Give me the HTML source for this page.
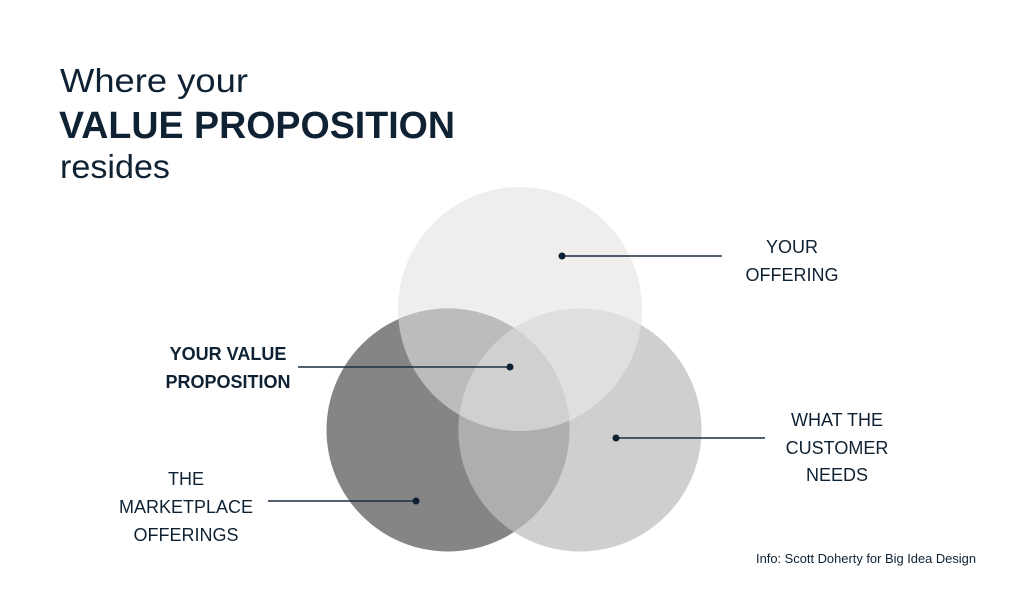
<!DOCTYPE html>
<html><head><meta charset="utf-8"><style>
body{margin:0;background:#fff;width:1024px;height:597px;overflow:hidden}
svg{display:block}
text{font-family:"Liberation Sans",sans-serif;fill:#0f2233}
</style></head><body>
<svg width="1024" height="597" viewBox="0 0 1024 597" xmlns="http://www.w3.org/2000/svg">
<defs>
<clipPath id="cT"><circle cx="520" cy="309" r="122"/></clipPath>
<clipPath id="cL"><circle cx="448" cy="430" r="121.5"/></clipPath>
<clipPath id="cR"><circle cx="580" cy="430" r="121.5"/></clipPath>
</defs>
<text x="60" y="92" font-size="33" textLength="188" lengthAdjust="spacingAndGlyphs">Where your</text>
<text x="59" y="138" font-size="38" font-weight="bold" textLength="396" lengthAdjust="spacingAndGlyphs">VALUE PROPOSITION</text>
<text x="60" y="178" font-size="33" textLength="110" lengthAdjust="spacingAndGlyphs">resides</text>

<circle cx="520" cy="309" r="122" fill="#efeeed"/>
<circle cx="448" cy="430" r="121.5" fill="#858585"/>
<circle cx="580" cy="430" r="121.5" fill="#cfcfcf"/>
<circle cx="448" cy="430" r="121.5" fill="#bdbcbb" clip-path="url(#cT)"/>
<circle cx="580" cy="430" r="121.5" fill="#e0dfdf" clip-path="url(#cT)"/>
<g clip-path="url(#cL)"><circle cx="580" cy="430" r="121.5" fill="#aeaeae"/></g>
<g clip-path="url(#cL)"><g clip-path="url(#cR)"><circle cx="520" cy="309" r="122" fill="#d0d0cf"/></g></g>

<g stroke="#1c2f40" stroke-width="1.5">
<line x1="562" y1="256" x2="722" y2="256"/>
<line x1="298" y1="367" x2="510" y2="367"/>
<line x1="616" y1="438" x2="765" y2="438"/>
<line x1="268" y1="501" x2="416" y2="501"/>
</g>
<g fill="#0f2233">
<circle cx="562" cy="256" r="3.5"/>
<circle cx="510" cy="367" r="3.5"/>
<circle cx="616" cy="438" r="3.5"/>
<circle cx="416" cy="501" r="3.5"/>
</g>
<g font-size="18" text-anchor="middle">
<text x="792" y="253">YOUR</text>
<text x="792" y="281">OFFERING</text>
<text x="837" y="426">WHAT THE</text>
<text x="837" y="454">CUSTOMER</text>
<text x="837" y="481">NEEDS</text>
<text x="186" y="485">THE</text>
<text x="186" y="513">MARKETPLACE</text>
<text x="186" y="541">OFFERINGS</text>
<text x="228" y="360" font-weight="bold">YOUR VALUE</text>
<text x="228" y="388" font-weight="bold">PROPOSITION</text>
</g>
<text x="756" y="563" font-size="12.5" textLength="220" lengthAdjust="spacingAndGlyphs">Info: Scott Doherty for Big Idea Design</text>
</svg>
</body></html>
